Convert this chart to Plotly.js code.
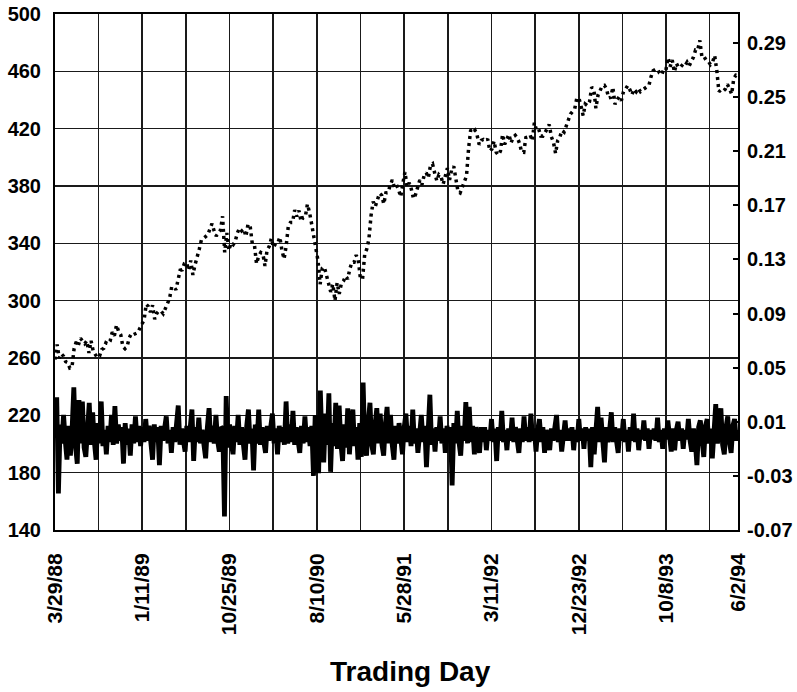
<!DOCTYPE html>
<html>
<head>
<meta charset="utf-8">
<script src="https://cdn.plot.ly/plotly-3.0.1.min.js"></script>
<style>html,body{margin:0;padding:0;background:#fff;}#chart{width:797px;height:692px;}</style>
</head>
<body>
<div id="chart"></div>
<script>
// ---- Data ----
// Index level, sampled about once a week, 3/29/88 .. 6/2/94
const price1988 = [258.9,269.4,259.8,263.0,261.3,257.5,256.8,253.0,253.4,266.5,271.3,268.9,273.8,271.8,270.0,272.0,263.5,272.0,265.0,262.5,260.2,261.3,265.9,266.8,270.6,269.8,271.9,278.1,275.5,283.0,278.5,276.3,267.9,266.5,268.0,274.0,277.0,276.3,276.9,277.7];
const price1989 = [280.7,283.9,286.6,297.5,296.0,292.0,296.8,287.1,291.2,292.9,292.7,290.9,294.9,297.2,301.4,309.6,309.6,307.6,313.8,321.2,321.6,326.0,326.7,321.3,328.0,318.0,324.9,331.8,335.9,342.2,343.9,344.7,346.0,350.5,353.7,348.8,345.1,347.1,349.2,358.8,333.7,347.2,335.1,340.4,339.1,341.6,347.4,350.6,348.7,350.1,344.8,353.4];
const price1990 = [352.2,339.9,339.2,325.8,330.9,333.6,332.7,324.2,335.5,337.9,343.5,337.2,339.9,340.1,344.3,335.1,329.1,338.4,352.0,354.6,354.6,363.2,358.7,362.9,355.4,358.0,358.4,367.3,361.6,353.4,344.9,335.5,327.8,311.5,322.6,323.4,316.8,311.3,306.1,311.5,300.0,312.5,304.7,311.9,313.7,317.1,315.1,322.2,326.9,326.8,331.8,328.3];
const price1991 = [315.2,315.2,332.2,336.1,343.1,359.4,369.1,365.7,370.5,374.9,373.6,367.5,375.2,375.4,380.4,384.2,379.0,380.8,377.3,372.4,381.9,389.8,379.4,382.3,377.8,371.2,374.1,380.3,384.2,380.9,387.2,389.3,385.6,394.2,395.4,389.1,383.6,387.9,386.5,381.3,387.9,392.5,384.2,391.3,393.7,382.6,376.1,375.2,379.1,384.5,387.0,406.5];
const price1992 = [419.3,417.6,418.9,415.4,408.8,411.9,412.5,411.4,412.7,404.4,405.8,411.3,403.5,401.6,404.3,416.0,409.0,412.5,416.0,410.1,414.0,415.4,413.5,409.8,403.7,403.5,413.8,414.2,415.6,411.6,424.2,418.9,420.0,414.9,414.8,417.1,419.6,422.9,414.4,410.5,402.7,411.7,414.1,418.7,417.6,422.4,426.7,430.2,432.0,433.7,441.3,441.4,435.7];
const price1993 = [429.1,437.2,436.1,438.8,448.9,447.7,434.2,443.4,446.1,449.8,450.2,447.8,441.4,441.8,448.9,437.0,440.2,442.3,439.6,445.8,447.6,450.1,447.3,443.7,447.6,445.8,448.1,445.8,447.1,448.1,448.7,450.1,456.2,460.5,461.3,461.7,458.8,457.6,461.3,460.7,469.5,463.3,467.8,459.6,465.4,462.6,463.1,464.9,463.9,466.4,463.9,466.5];
const price1994 = [469.9,474.9,474.7,481.6,469.8,470.2,467.7,467.0,464.7,466.4,471.1,460.6,445.8,447.1,446.2,447.6,450.9,447.8,444.1,454.9,457.3,457.0];

// Daily return, sampled about every fourth trading day
const returnsA = [.012,.028,-.043,.008,-.006,.015,-.004,-.018,.007,-.015,.005,.0355,-.008,-.021,.026,-.006,.025,-.009,-.016,.006,.024,-.007,.017,-.005,-.018,.009,-.006,.025,-.008,.004,-.014,.007,-.005,.015,-.007,.0215,-.006,.008,-.004,.006,-.021,.009,-.007,.005,-.015,.008,-.006,.014,-.005,.007];
const returnsB = [-.008,.006,-.005,.012,-.004,.007,-.006,-.018,.008,-.005,.006,-.022,.007,-.004,.005,.014,-.006,.004,-.013,.006,-.005,.008,.022,-.007,.005,-.004,-.012,.007,-.005,.006,.019,-.019,.006,-.005,.013,-.006,.004,-.007,-.017,.006,.020,-.005,.007,-.006,.015,-.004,-.012,.006,.005,-.060];
const returnsC = [.029,-.009,.008,-.006,-.014,.007,-.005,.015,-.007,.006,-.008,-.018,.007,.019,-.006,.005,-.026,.008,-.006,.019,-.007,.006,-.005,-.013,.007,-.004,.006,.016,-.006,.005,-.014,.007,-.005,.006,-.007,.025,-.006,.008,-.005,.018,-.007,.006,-.004,-.013,.007,-.006,.014,-.005,.006,-.008];
const returnsD = [.007,-.030,.015,-.009,-.028,.033,-.008,-.020,.016,-.007,.031,-.027,.009,-.008,.024,-.010,.022,-.006,-.019,.008,-.009,.020,-.014,.007,.019,-.008,.006,-.018,.009,-.016,.039,-.008,-.015,.010,.024,-.007,-.014,.008,.020,-.006,.016,-.007,-.015,.008,.021,-.006,.015,-.007,-.018,.007];
const returnsE = [-.006,.009,-.007,-.014,.006,.016,-.005,.007,-.008,.019,-.006,.005,-.013,.006,.015,-.005,.007,-.0235,.006,.030,-.007,.005,-.012,.006,-.004,.014,-.006,.005,-.013,.007,-.005,.006,-.037,.009,-.006,.018,-.005,-.015,.007,-.004,.0245,-.006,.021,-.005,.007,-.014,.006,-.004,-.013,.006];
const returnsF = [-.005,.006,-.011,.004,-.004,.012,-.005,.005,-.019,.006,-.004,.018,-.005,.004,-.011,.005,-.004,.013,-.005,.006,-.004,-.013,.005,-.005,.014,-.004,.006,-.005,.016,-.004,.005,-.012,.004,.012,-.005,.006,-.013,.004,-.003,-.011,.005,-.004,.006,.015,-.005,.004,-.012,.005,.011,-.004];
const returnsG = [.005,-.004,.006,-.011,.004,-.005,.012,-.004,.005,-.010,.006,-.004,.005,-.0235,.006,-.014,.004,.021,-.005,.013,-.004,-.020,.006,-.005,.004,.017,-.005,.006,-.004,-.013,.005,-.004,.012,-.005,.004,-.012,.006,-.004,.016,-.005,.005,-.011,.004,-.003,.011,-.004,.005,-.010,.004,-.003];
const returnsH = [.005,-.004,.013,-.005,.004,-.010,.005,-.003,.011,-.004,-.012,.005,-.011,.004,.010,-.004,.005,-.010,.004,-.003,.012,-.004,-.012,.005,-.004,-.022,.006,.011,-.005,-.016,.007,.012,-.006,.005,-.017,.007,.023,-.006,.008,.020,-.007,-.014,.006,.014,-.005,-.013,.007,.012,-.004,.004];

// Axis labels
const dateLabels = ['3/29/88','1/11/89','10/25/89','8/10/90','5/28/91','3/11/92','12/23/92','10/8/93','6/2/94'];
const leftTicks = [140,180,220,260,300,340,380,420,460,500];
const rightTicks = [-0.07,-0.03,0.01,0.05,0.09,0.13,0.17,0.21,0.25,0.29];
const rightTickText = ['-0.07','-0.03','0.01','0.05','0.09','0.13','0.17','0.21','0.25','0.29'];
const lastDay = 1565;
const xTitle = 'Trading Day';

// ---- Build ----
const price = [].concat(price1988,price1989,price1990,price1991,price1992,price1993,price1994);
const rets = [].concat(returnsA,returnsB,returnsC,returnsD,returnsE,returnsF,returnsG,returnsH);
const priceX = price.map((_, i) => i * lastDay / (price.length - 1));
const retX = rets.map((_, i) => i * lastDay / (rets.length - 1));

const gridVals = [], gridText = [];
for (let d = 0; d <= 1500; d += 100) {
  gridVals.push(d);
  gridText.push(d % 200 === 0 ? dateLabels[d / 200] : '');
}
gridVals.push(lastDay); gridText.push(dateLabels[dateLabels.length - 1]);

const FONT = 'Liberation Sans, Arial, Helvetica, sans-serif';

const traces = [
  {
    x: retX, y: rets, yaxis: 'y2', type: 'scatter', mode: 'lines',
    line: {color: '#000', width: 4.8}, hoverinfo: 'skip', showlegend: false
  },
  {
    x: priceX, y: price, yaxis: 'y', type: 'scatter', mode: 'lines',
    line: {color: '#000', width: 3.5, dash: '3px,4px'}, hoverinfo: 'skip', showlegend: false
  }
];

const layout = {
  width: 797, height: 692,
  margin: {l: 55, r: 59, t: 14, b: 162},
  paper_bgcolor: '#fff', plot_bgcolor: '#fff',
  showlegend: false,
  font: {family: FONT, color: '#000'},
  xaxis: {
    range: [0, lastDay], tickmode: 'array', tickvals: gridVals, ticktext: gridText,
    tickangle: -90, ticks: '', ticklabelstandoff: 13,
    tickfont: {family: FONT, size: 21, weight: 'bold', color: '#000'},
    showgrid: true, gridcolor: '#1a1a1a', gridwidth: 1.6,
    showline: true, linecolor: '#000', linewidth: 2, mirror: true,
    zeroline: false, fixedrange: true
  },
  xaxis2: {
    overlaying: 'x', side: 'top', range: [0, lastDay], anchor: 'y',
    tickmode: 'linear', tick0: 0, dtick: 100 / 3, ticks: 'inside', ticklen: 4,
    tickcolor: '#000', tickwidth: 1.5, showticklabels: false, showgrid: false,
    zeroline: false, showline: false
  },
  yaxis: {
    range: [140, 500], tickmode: 'array', tickvals: leftTicks,
    ticks: '', ticklabelstandoff: 8,
    tickfont: {family: FONT, size: 20, weight: 'bold', color: '#000'},
    showgrid: true, gridcolor: '#1a1a1a', gridwidth: 1.6,
    showline: true, linecolor: '#000', linewidth: 2, mirror: true,
    zeroline: false, fixedrange: true
  },
  yaxis2: {
    overlaying: 'y', side: 'right', range: [-0.07, 0.3114],
    tickmode: 'array', tickvals: rightTicks, ticktext: rightTickText,
    ticks: 'inside', ticklen: 5, tickwidth: 2, tickcolor: '#000', ticklabelstandoff: 8,
    tickfont: {family: FONT, size: 20, weight: 'bold', color: '#000'},
    showgrid: false, zeroline: false, showline: false, fixedrange: true
  },
  annotations: [{
    text: xTitle, xref: 'paper', yref: 'paper', x: 0.521, y: -0.275,
    xanchor: 'center', yanchor: 'middle', showarrow: false,
    font: {family: FONT, size: 28, weight: 'bold', color: '#000'}
  }]
};

Plotly.newPlot('chart', traces, layout, {staticPlot: true, displayModeBar: false});
</script>
</body>
</html>
